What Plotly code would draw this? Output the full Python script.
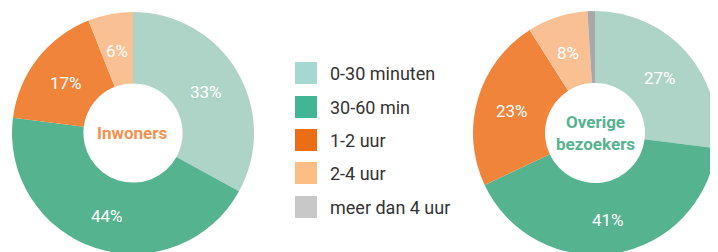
import math
import plotly.graph_objects as go

categories = ["0-30 minuten", "30-60 min", "1-2 uur", "2-4 uur", "meer dan 4 uur"]
inwoners_values = [33, 44, 17, 6]
overige_values = [27, 41, 23, 8, 1]
slice_colors = ["#aed4c7", "#55b38f", "#f0843b", "#f9c093", "#a9a9a9"]
legend_colors = ["#a5d8d1", "#41b594", "#ec6d13", "#fdbd84", "#c8c8c8"]
titles = ["Inwoners", "Overige<br>bezoekers"]
title_colors = ["#f3924f", "#55b38f"]

# page body has an 8px margin; figure coordinates = reference pixel - 8
OFF = 8
W, H = 710, 248
HOLE = 0.41

def px_x(x):
    return (x - OFF) / W

def px_y(y):
    return 1 - (y - OFF) / H

fig = go.Figure()

pies = [
    (inwoners_values, 133, 133, 121),
    (overige_values, 595, 133, 122),
]
annotations = []
shapes = []

for (vals, cx, cy, r) in pies:
    n = len(vals)
    fig.add_trace(go.Pie(
        labels=categories[:n],
        values=vals,
        textinfo="none",
        hole=HOLE,
        sort=False,
        direction="clockwise",
        rotation=0,
        marker=dict(colors=slice_colors[:n], line=dict(width=0)),
        domain=dict(x=[px_x(cx - r), px_x(cx + r)], y=[px_y(cy + r), px_y(cy - r)]),
        showlegend=False,
        hoverinfo="label+percent",
    ))
    # percentage labels at the centre of each ring segment (derived from the values)
    total = sum(vals)
    rm = (HOLE * r + r) / 2
    cum = 0
    for v in vals:
        mid = (cum + v / 2) / total * 2 * math.pi
        cum += v
        if v < 3:
            continue
        annotations.append(dict(
            x=px_x(cx + rm * math.sin(mid)), y=px_y(cy - rm * math.cos(mid)),
            xref="paper", yref="paper", text=f"{v}%", showarrow=False,
            font=dict(family="Roboto", size=17, color="white"),
            xanchor="center", yanchor="middle", yshift=-2,
        ))

for (t, c, (vals, cx, cy, r)) in zip(titles, title_colors, pies):
    annotations.append(dict(
        x=px_x(cx), y=px_y(cy), xref="paper", yref="paper",
        text=f"<b>{t}</b>", showarrow=False,
        font=dict(family="Roboto", size=17, color=c),
        xanchor="center", yanchor="middle",
    ))

row_y = [73, 107, 140, 173, 207]
for cat, col, yy in zip(categories, legend_colors, row_y):
    shapes.append(dict(
        type="rect", xref="paper", yref="paper",
        x0=px_x(295), x1=px_x(317), y0=px_y(yy + 11), y1=px_y(yy - 11),
        fillcolor=col, line=dict(width=0),
    ))
    annotations.append(dict(
        x=px_x(328), y=px_y(yy), xref="paper", yref="paper",
        text=cat, showarrow=False,
        font=dict(family="Roboto", size=18, color="#333333"),
        xanchor="left", yanchor="middle",
    ))

fig.update_layout(
    width=W, height=H,
    margin=dict(l=0, r=0, t=0, b=0),
    paper_bgcolor="white",
    plot_bgcolor="white",
    annotations=annotations,
    shapes=shapes,
)

fig.write_html("out.html")
